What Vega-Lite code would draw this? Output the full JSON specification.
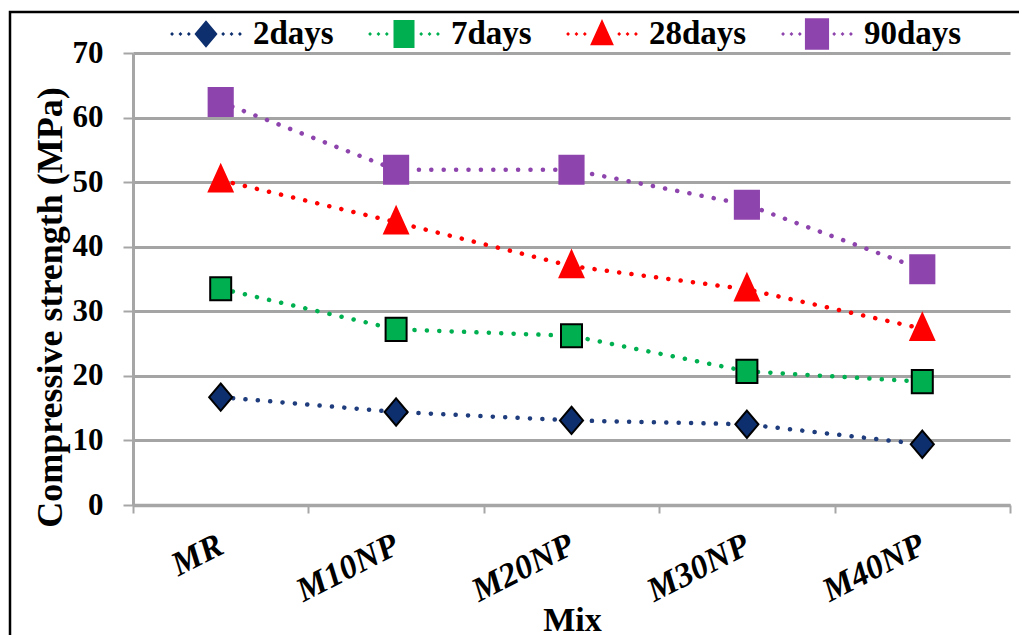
{
  "$schema": "https://vega.github.io/schema/vega-lite/v6.json",
  "autosize": {"type": "none"},
  "padding": {"left": 10, "top": 12, "right": -20, "bottom": -20},
  "width": 1029,
  "height": 643,
  "background": "white",
  "config": {
    "view": {"stroke": "#000000", "strokeWidth": 2.5, "fill": "white"},
    "font": "Liberation Serif",
    "legend": {
      "orient": "none",
      "legendX": 161,
      "legendY": -13,
      "direction": "horizontal",
      "padding": 0,
      "symbolSize": 4900,
      "symbolOpacity": 1,
      "symbolStrokeWidth": 0,
      "labelFont": "Liberation Serif",
      "labelFontSize": 33,
      "labelFontWeight": "bold",
      "labelColor": "#000000",
      "labelOffset": 12,
      "labelLimit": 0,
      "columnPadding": 34
    }
  },
  "data": {
    "values": [
      {"mix": "MR", "series": "2days", "strength": 16.7},
      {"mix": "M10NP", "series": "2days", "strength": 14.4},
      {"mix": "M20NP", "series": "2days", "strength": 13.1},
      {"mix": "M30NP", "series": "2days", "strength": 12.5},
      {"mix": "M40NP", "series": "2days", "strength": 9.4},
      {"mix": "MR", "series": "7days", "strength": 33.5},
      {"mix": "M10NP", "series": "7days", "strength": 27.2},
      {"mix": "M20NP", "series": "7days", "strength": 26.2},
      {"mix": "M30NP", "series": "7days", "strength": 20.7},
      {"mix": "M40NP", "series": "7days", "strength": 19.1},
      {"mix": "MR", "series": "28days", "strength": 50.3},
      {"mix": "M10NP", "series": "28days", "strength": 43.8},
      {"mix": "M20NP", "series": "28days", "strength": 37.0},
      {"mix": "M30NP", "series": "28days", "strength": 33.4},
      {"mix": "M40NP", "series": "28days", "strength": 27.3},
      {"mix": "MR", "series": "90days", "strength": 62.4},
      {"mix": "M10NP", "series": "90days", "strength": 51.9},
      {"mix": "M20NP", "series": "90days", "strength": 51.9},
      {"mix": "M30NP", "series": "90days", "strength": 46.5},
      {"mix": "M40NP", "series": "90days", "strength": 36.5}
    ]
  },
  "encoding": {
    "x": {
      "field": "mix",
      "type": "nominal",
      "sort": ["MR", "M10NP", "M20NP", "M30NP", "M40NP"],
      "scale": {"type": "band", "range": [123, 1000], "paddingInner": 0, "paddingOuter": 0},
      "axis": {
        "title": "Mix",
        "offset": -150,
        "grid": false,
        "tickBand": "extent",
        "tickSize": 8,
        "tickColor": "#A6A6A6",
        "tickWidth": 2,
        "domainColor": "#A6A6A6",
        "domainWidth": 3.5,
        "labelAngle": -27,
        "labelAlign": "right",
        "labelBaseline": "middle",
        "labelPadding": 30,
        "labelOverlap": false,
        "labelFont": "Liberation Serif",
        "labelFontSize": 34,
        "labelFontWeight": "bold",
        "labelFontStyle": "italic",
        "labelColor": "#000000",
        "titleFont": "Liberation Serif",
        "titleFontSize": 34,
        "titleFontWeight": "bold",
        "titleColor": "#000000",
        "titleX": 562,
        "titleY": 125,
        "titleAlign": "center",
        "titleBaseline": "alphabetic"
      }
    },
    "y": {
      "field": "strength",
      "type": "quantitative",
      "scale": {"domain": [0, 70], "range": [493, 41], "nice": false},
      "axis": {
        "title": "Compressive strength (MPa)",
        "offset": -123,
        "values": [0, 10, 20, 30, 40, 50, 60, 70],
        "grid": true,
        "gridColor": "#A4A4A4",
        "gridWidth": 3,
        "domainColor": "#A6A6A6",
        "domainWidth": 3,
        "tickColor": "#A6A6A6",
        "tickWidth": 2,
        "tickSize": 10,
        "labelPadding": 20,
        "labelFont": "Liberation Serif",
        "labelFontSize": 31,
        "labelFontWeight": "bold",
        "labelColor": "#000000",
        "titleFont": "Liberation Serif",
        "titleFontSize": 36,
        "titleFontWeight": "bold",
        "titleColor": "#000000",
        "titleAngle": -90,
        "titleX": -83,
        "titleY": 295,
        "titleAlign": "center",
        "titleBaseline": "middle"
      }
    }
  },
  "resolve": {"scale": {"shape": "independent", "color": "independent"}},
  "layer": [
    {
      "mark": {"type": "line", "strokeDash": [0.1, 12.3], "strokeCap": "round", "strokeWidth": 4.5},
      "encoding": {
        "color": {
          "field": "series",
          "type": "nominal",
          "scale": {
            "domain": ["2days", "7days", "28days", "90days"],
            "range": ["#1F3D7D", "#00B050", "#FF0000", "#8E44AD"]
          },
          "legend": null
        }
      }
    },
    {
      "mark": {"type": "point", "filled": true, "opacity": 1, "size": 4900, "strokeWidth": 2},
      "encoding": {
        "fill": {
          "field": "series",
          "type": "nominal",
          "scale": {
            "domain": ["2days", "7days", "28days", "90days"],
            "range": ["#0E2F6E", "#00B050", "#FF0000", "#8E44AD"]
          },
          "legend": null
        },
        "stroke": {
          "field": "series",
          "type": "nominal",
          "scale": {
            "domain": ["2days", "7days", "28days", "90days"],
            "range": ["#000000", "#000000", "#FF0000", "#8E44AD"]
          },
          "legend": null
        },
        "shape": {
          "field": "series",
          "type": "nominal",
          "scale": {
            "domain": ["2days", "7days", "28days", "90days"],
            "range": [
              "M0,-0.39L0.33,0L0,0.39L-0.33,0Z",
              "M-0.3,-0.33H0.3V0.33H-0.3Z",
              "M0,-0.43L0.34,0.32L-0.34,0.32Z",
              "M-0.345,-0.4H0.345V0.4H-0.345Z"
            ]
          },
          "legend": null
        }
      }
    },
    {
      "transform": [{"filter": "datum.strength < 0"}],
      "mark": {"type": "point", "filled": true, "opacity": 1, "size": 4900},
      "encoding": {
        "color": {
          "field": "series",
          "type": "nominal",
          "scale": {
            "domain": ["2days", "7days", "28days", "90days"],
            "range": ["#0E2F6E", "#00B050", "#FF0000", "#8E44AD"]
          },
          "legend": {"title": null}
        },
        "shape": {
          "field": "series",
          "type": "nominal",
          "scale": {
            "domain": ["2days", "7days", "28days", "90days"],
            "range": [
              "M0,-0.39L0.33,0L0,0.39L-0.33,0Z M-1.025,0L-0.97,-0.055L-0.915,0L-0.97,0.055Z M-0.785,0L-0.73,-0.055L-0.675,0L-0.73,0.055Z M-0.545,0L-0.49,-0.055L-0.435,0L-0.49,0.055Z M0.435,0L0.49,-0.055L0.545,0L0.49,0.055Z M0.675,0L0.73,-0.055L0.785,0L0.73,0.055Z M0.915,0L0.97,-0.055L1.025,0L0.97,0.055Z",
              "M-0.3,-0.4H0.3V0.4H-0.3Z M-1.025,0L-0.97,-0.055L-0.915,0L-0.97,0.055Z M-0.785,0L-0.73,-0.055L-0.675,0L-0.73,0.055Z M-0.545,0L-0.49,-0.055L-0.435,0L-0.49,0.055Z M0.435,0L0.49,-0.055L0.545,0L0.49,0.055Z M0.675,0L0.73,-0.055L0.785,0L0.73,0.055Z M0.915,0L0.97,-0.055L1.025,0L0.97,0.055Z",
              "M0,-0.43L0.34,0.32L-0.34,0.32Z M-1.025,0L-0.97,-0.055L-0.915,0L-0.97,0.055Z M-0.785,0L-0.73,-0.055L-0.675,0L-0.73,0.055Z M-0.545,0L-0.49,-0.055L-0.435,0L-0.49,0.055Z M0.435,0L0.49,-0.055L0.545,0L0.49,0.055Z M0.675,0L0.73,-0.055L0.785,0L0.73,0.055Z M0.915,0L0.97,-0.055L1.025,0L0.97,0.055Z",
              "M-0.345,-0.45H0.345V0.45H-0.345Z M-1.025,0L-0.97,-0.055L-0.915,0L-0.97,0.055Z M-0.785,0L-0.73,-0.055L-0.675,0L-0.73,0.055Z M-0.545,0L-0.49,-0.055L-0.435,0L-0.49,0.055Z M0.435,0L0.49,-0.055L0.545,0L0.49,0.055Z M0.675,0L0.73,-0.055L0.785,0L0.73,0.055Z M0.915,0L0.97,-0.055L1.025,0L0.97,0.055Z"
            ]
          },
          "legend": {"title": null}
        }
      }
    }
  ]
}
